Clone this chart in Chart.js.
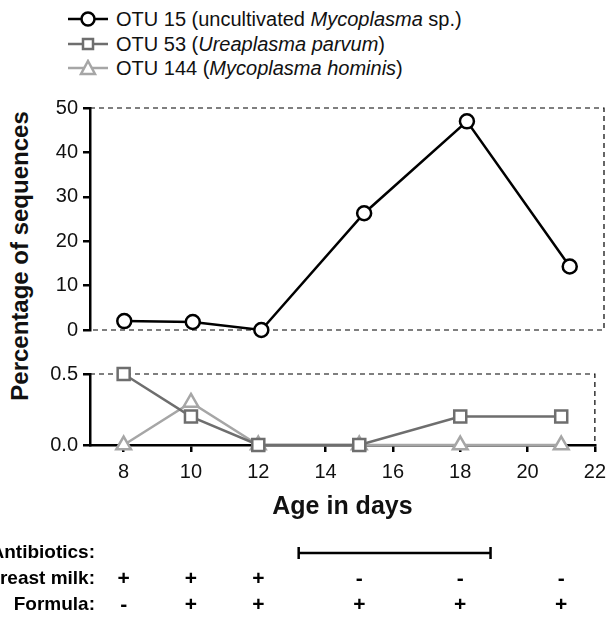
<!DOCTYPE html>
<html>
<head>
<meta charset="utf-8">
<title>OTU percentages</title>
<script src="https://cdn.jsdelivr.net/npm/chart.js@4.4.0/dist/chart.umd.min.js"></script>
<style>
  body { margin: 0; background: #fff; font-family: "Liberation Sans", Arial, sans-serif; }
  #page { position: relative; width: 614px; height: 617px; overflow: hidden; }
  canvas { position: absolute; left: 0; }
  #legend { position: absolute; left: 68px; top: 7px; font-size: 20px; color: #111; }
  #legend div { height: 24.5px; line-height: 24.5px; white-space: nowrap; }
  #legend svg { vertical-align: middle; margin-right: 8px; margin-top: -3px; }
  #ytitle { position: absolute; left: 20px; top: 256px; transform: translate(-50%, -50%) rotate(-90deg);
            font-weight: bold; font-size: 24px; white-space: nowrap; color: #111; }
</style>
</head>
<body>
<div id="page">
  <div id="legend">
    <div><svg width="40" height="18"><line x1="0" y1="9" x2="40" y2="9" stroke="#000" stroke-width="2.5"/><circle cx="20" cy="9" r="6.5" fill="#fff" stroke="#000" stroke-width="2.5"/></svg>OTU 15 (uncultivated <i>Mycoplasma</i> sp.)</div>
    <div><svg width="40" height="18"><line x1="0" y1="9" x2="40" y2="9" stroke="#6e6e6e" stroke-width="2.5"/><rect x="15" y="4" width="10" height="10" fill="#fff" stroke="#6e6e6e" stroke-width="2.5"/></svg>OTU 53 (<i>Ureaplasma parvum</i>)</div>
    <div><svg width="40" height="18"><line x1="0" y1="9" x2="40" y2="9" stroke="#a6a6a6" stroke-width="2.5"/><polygon points="20,2 27,15 13,15" fill="#fff" stroke="#a6a6a6" stroke-width="2.5"/></svg>OTU 144 (<i>Mycoplasma hominis</i>)</div>
  </div>
  <div id="ytitle">Percentage of sequences</div>
  <canvas id="upper" width="614" height="256" style="top:91px"></canvas>
  <canvas id="lower" width="614" height="260" style="top:357px"></canvas>
</div>
<script>
// sampling days
const days = [8, 10, 12, 15, 18, 21];
// percentage of sequences
const otu15 = [2.0, 1.8, 0.0, 26.3, 47.0, 14.3];
const otu53 = [0.5, 0.2, 0.0, 0.0, 0.2, 0.2];
const otu144 = [0.0, 0.3, 0.0, 0.0, 0.0, 0.0];
// axis ticks
const xTicks = [8, 10, 12, 14, 16, 18, 20, 22];
const upperTicks = [0, 10, 20, 30, 40, 50];
const lowerTicks = [0, 0.5];
// feeding / treatment annotations
const antibiotics = [13.2, 18.9];
const breastMilk = ['+', '+', '+', '-', '-', '-'];
const formula = ['-', '+', '+', '+', '+', '+'];

const FONT = '"Liberation Sans", Arial, sans-serif';
Chart.defaults.font.family = FONT;
Chart.defaults.color = '#111';

function pts(ys) {
  return days.map((d, i) => ({ x: d, y: ys[i] }));
}

function yAxis(min, max, ticks, fmt) {
  return {
    min: min, max: max,
    afterFit: s => { s.width = 90; },
    afterBuildTicks: s => { s.ticks = ticks.map(v => ({ value: v })); },
    grid: { display: true, drawOnChartArea: false, drawTicks: true, tickLength: 7, color: '#000', lineWidth: 2.5 },
    border: { display: true, color: '#000', width: 2.5 },
    ticks: { font: { size: 20 }, padding: 5, color: '#111', callback: fmt }
  };
}

// dashed frame around a panel (top, right and optional bottom)
const dashedFrame = {
  id: 'dashedFrame',
  beforeDatasetsDraw(chart, args, opts) {
    const a = chart.chartArea, c = chart.ctx;
    c.save();
    c.strokeStyle = '#000';
    c.lineWidth = 1.2;
    c.setLineDash([5, 4]);
    c.beginPath();
    c.moveTo(a.left, a.top); c.lineTo(a.right, a.top); c.lineTo(a.right, a.bottom);
    if (opts.bottom) c.lineTo(a.left, a.bottom);
    c.stroke();
    c.restore();
  }
};

// treatment rows under the x axis
const rows = {
  id: 'rows',
  afterDraw(chart) {
    const x = chart.scales.x, c = chart.ctx;
    const yA = 553 - 357, yB = 579 - 357, yF = 605 - 357;
    c.save();
    c.fillStyle = '#000';
    c.font = 'bold 19px ' + FONT;
    c.textAlign = 'right';
    c.textBaseline = 'middle';
    c.fillText('Antibiotics:', 95, yA);
    c.fillText('Breast milk:', 95, yB);
    c.fillText('Formula:', 95, yF);
    c.textAlign = 'center';
    c.font = 'bold 21px ' + FONT;
    days.forEach((d, i) => {
      c.fillText(breastMilk[i], x.getPixelForValue(d), yB);
      c.fillText(formula[i], x.getPixelForValue(d), yF);
    });
    const x0 = x.getPixelForValue(antibiotics[0]), x1 = x.getPixelForValue(antibiotics[1]);
    c.strokeStyle = '#000';
    c.lineWidth = 2.5;
    c.beginPath();
    c.moveTo(x0, yA); c.lineTo(x1, yA);
    c.moveTo(x0, yA - 6); c.lineTo(x0, yA + 6);
    c.moveTo(x1, yA - 6); c.lineTo(x1, yA + 6);
    c.stroke();
    c.restore();
  }
};

const xBase = { type: 'linear', min: 7, max: 22 };

new Chart(document.getElementById('upper'), {
  type: 'line',
  data: {
    datasets: [{
      label: 'OTU 15', data: pts(otu15), borderColor: '#000', borderWidth: 2.5,
      pointStyle: 'circle', pointRadius: 7, pointBorderWidth: 2.5, pointBackgroundColor: '#fff',
      pointBorderColor: '#000', clip: false
    }]
  },
  options: {
    responsive: false, animation: false,
    layout: { padding: { top: 10, right: 10, bottom: 10, left: 0 } },
    plugins: { legend: { display: false }, tooltip: { enabled: false }, dashedFrame: { bottom: true } },
    scales: {
      x: Object.assign({ display: false }, xBase),
      y: yAxis(0, 50, upperTicks, v => String(v))
    }
  },
  plugins: [dashedFrame]
});

new Chart(document.getElementById('lower'), {
  type: 'line',
  data: {
    datasets: [{
      label: 'OTU 53', data: pts(otu53), borderColor: '#6e6e6e', borderWidth: 2.5,
      pointStyle: 'rect', pointRadius: 8.5, pointBorderWidth: 2.5, pointBackgroundColor: '#fff',
      pointBorderColor: '#6e6e6e', clip: false, order: 1
    }, {
      label: 'OTU 144', data: pts(otu144), borderColor: '#a6a6a6', borderWidth: 2.5,
      pointStyle: 'triangle', pointRadius: 8.5, pointBorderWidth: 2.5, pointBackgroundColor: '#fff',
      pointBorderColor: '#a6a6a6', clip: false, order: 2
    }]
  },
  options: {
    responsive: false, animation: false,
    layout: { padding: { top: 10, right: 10, bottom: 92, left: 0 } },
    plugins: { legend: { display: false }, tooltip: { enabled: false }, dashedFrame: { bottom: false } },
    scales: {
      x: Object.assign({
        afterFit: s => { s.height = 80; },
        afterBuildTicks: s => { s.ticks = xTicks.map(v => ({ value: v })); },
        grid: { display: true, drawOnChartArea: false, drawTicks: true, tickLength: 7, color: '#000', lineWidth: 2.5 },
        border: { display: true, color: '#000', width: 2.5 },
        ticks: { font: { size: 20 }, padding: 8, color: '#111', maxRotation: 0 },
        title: { display: true, text: 'Age in days', font: { size: 25, weight: 'bold' }, color: '#111', padding: { top: 0, bottom: 3 } }
      }, xBase),
      y: yAxis(0, 0.5, lowerTicks, v => v.toFixed(1))
    }
  },
  plugins: [dashedFrame, rows]
});
</script>
</body>
</html>
